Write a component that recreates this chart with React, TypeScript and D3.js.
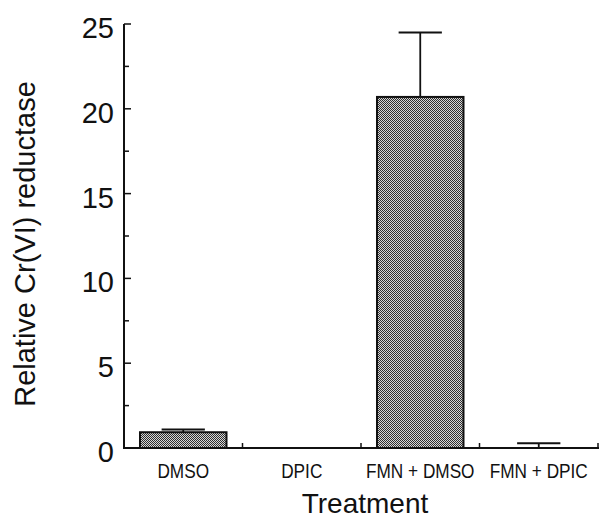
import * as d3 from "d3";
import React, { useEffect, useRef } from "react";

// values
const categories = ["DMSO", "DPIC", "FMN + DMSO", "FMN + DPIC"];
const values = [0.93, 0, 20.7, 0.03];
const errors = [0.16, 0, 3.8, 0.25];
const yTicks = [0, 5, 10, 15, 20, 25];
const yMinorTicks = [2.5, 7.5, 12.5, 17.5, 22.5];

const W = 600,
  H = 519;

function App() {
  const ref = useRef<SVGSVGElement>(null);

  useEffect(() => {
    const svg = d3.select(ref.current);
    svg.selectAll("*").remove();

    const left = 124,
      right = 598,
      top = 24,
      bottom = 448;

    const x = d3.scaleBand().domain(categories).range([left, right]).paddingInner(0.27).paddingOuter(0.135);
    const band = d3.scaleBand().domain(categories).range([left, right]);
    const y = d3.scaleLinear().domain([0, 25]).range([bottom, top]);

    // stippled fill
    const pat = svg
      .append("defs")
      .append("pattern")
      .attr("id", "stipple")
      .attr("patternUnits", "userSpaceOnUse")
      .attr("width", 2)
      .attr("height", 2);
    pat.append("rect").attr("width", 2).attr("height", 2).attr("fill", "#d6d6d6");
    pat.append("rect").attr("x", 0).attr("y", 0).attr("width", 1).attr("height", 1).attr("fill", "#2e2e2e");
    pat.append("rect").attr("x", 1).attr("y", 1).attr("width", 1).attr("height", 1).attr("fill", "#2e2e2e");

    const font = "'Liberation Sans', Arial, Helvetica, sans-serif";

    // error bars (behind bars)
    categories.forEach((c, i) => {
      if (errors[i] <= 0) return;
      const cx = x(c)! + x.bandwidth() / 2;
      const hw = x.bandwidth() * 0.25;
      svg
        .append("line")
        .attr("x1", cx)
        .attr("x2", cx)
        .attr("y1", y(values[i]))
        .attr("y2", y(values[i] + errors[i]))
        .attr("stroke", "#111")
        .attr("stroke-width", 1.8);
      svg
        .append("line")
        .attr("x1", cx - hw)
        .attr("x2", cx + hw)
        .attr("y1", y(values[i] + errors[i]))
        .attr("y2", y(values[i] + errors[i]))
        .attr("stroke", "#111")
        .attr("stroke-width", 1.8);
    });

    // bars
    svg
      .selectAll("rect.bar")
      .data(categories.filter((c, i) => values[i] > 0.1))
      .enter()
      .append("rect")
      .attr("class", "bar")
      .attr("x", (d) => x(d)!)
      .attr("width", x.bandwidth())
      .attr("y", (d) => y(values[categories.indexOf(d)]))
      .attr("height", (d) => bottom - y(values[categories.indexOf(d)]))
      .attr("fill", "url(#stipple)")
      .attr("stroke", "#111")
      .attr("stroke-width", 2);

    // axes
    svg
      .append("line")
      .attr("x1", left)
      .attr("x2", left)
      .attr("y1", top)
      .attr("y2", bottom)
      .attr("stroke", "#111")
      .attr("stroke-width", 2);
    svg
      .append("line")
      .attr("x1", left - 1)
      .attr("x2", right + 1)
      .attr("y1", bottom)
      .attr("y2", bottom)
      .attr("stroke", "#111")
      .attr("stroke-width", 2);

    yTicks.forEach((t) => {
      svg
        .append("line")
        .attr("x1", left)
        .attr("x2", left + 7)
        .attr("y1", y(t))
        .attr("y2", y(t))
        .attr("stroke", "#111")
        .attr("stroke-width", 1.5);
      svg
        .append("text")
        .attr("x", 114)
        .attr("y", y(t) + 14)
        .attr("text-anchor", "end")
        .style("font-family", font)
        .style("font-size", "29px")
        .attr("fill", "#111")
        .text(t.toString());
    });
    yMinorTicks.forEach((t) =>
      svg
        .append("line")
        .attr("x1", left)
        .attr("x2", left + 5)
        .attr("y1", y(t))
        .attr("y2", y(t))
        .attr("stroke", "#111")
        .attr("stroke-width", 1.5)
    );

    // x ticks at band boundaries; labels are a narrow face, so squeeze them
    categories.forEach((c) => {
      const bx = band(c)! + band.bandwidth();
      svg
        .append("line")
        .attr("x1", bx)
        .attr("x2", bx)
        .attr("y1", bottom)
        .attr("y2", bottom - 5)
        .attr("stroke", "#111")
        .attr("stroke-width", 1.5);
      svg
        .append("text")
        .attr("transform", `translate(${band(c)! + band.bandwidth() / 2},478) scale(0.82,1)`)
        .attr("text-anchor", "middle")
        .style("font-family", font)
        .style("font-size", "21px")
        .attr("fill", "#111")
        .text(c);
    });

    // axis titles
    svg
      .append("text")
      .attr("x", 365)
      .attr("y", 513)
      .attr("text-anchor", "middle")
      .style("font-family", font)
      .style("font-size", "28px")
      .attr("fill", "#111")
      .text("Treatment");

    svg
      .append("text")
      .attr("transform", "translate(35,244) rotate(-90)")
      .attr("text-anchor", "middle")
      .style("font-family", font)
      .style("font-size", "29px")
      .attr("fill", "#111")
      .text("Relative Cr(VI) reductase");
  }, []);

  return (
    <div className="chart">
      <svg ref={ref} width={W} height={H} style={{ position: "absolute", left: 0, top: 0, background: "#fff" }}></svg>
    </div>
  );
}

export default App;
